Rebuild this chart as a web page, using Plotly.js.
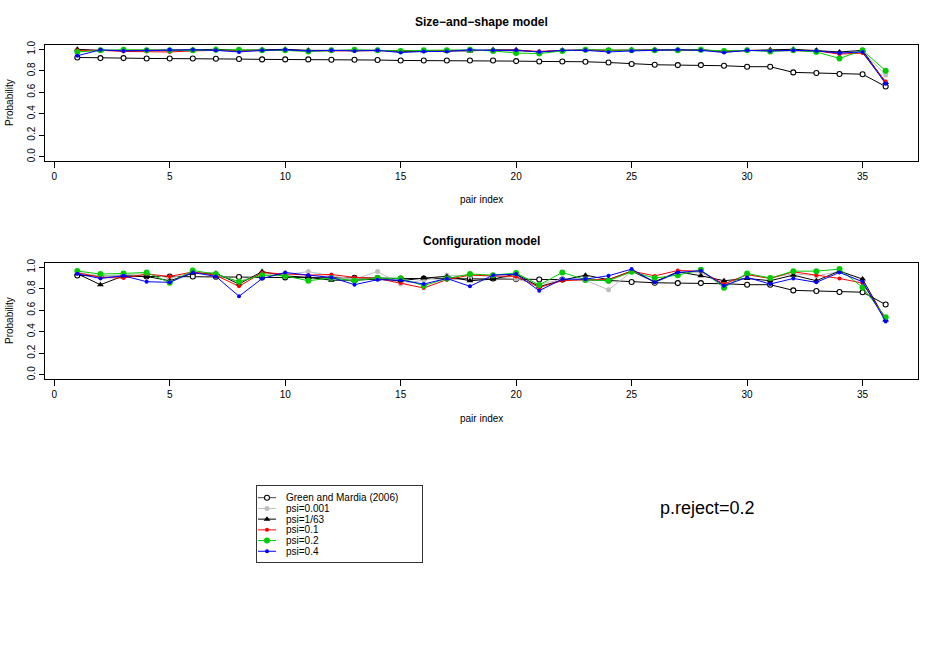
<!DOCTYPE html>
<html>
<head>
<meta charset="utf-8">
<script src="https://cdn.plot.ly/plotly-3.0.1.min.js"></script>
<style>
  body { margin: 0; background: white; }
  #plot { width: 943px; height: 654px; }
</style>
</head>
<body>
<div id="plot"></div>
<script>
// pair index on the x axis
const pairIndex = [1, 2, 3, 4, 5, 6, 7, 8, 9, 10, 11, 12, 13, 14, 15, 16, 17, 18,
  19, 20, 21, 22, 23, 24, 25, 26, 27, 28, 29, 30, 31, 32, 33, 34, 35, 36];

// Green and Mardia (2006), same in both panels
const greenMardia = [0.924, 0.918, 0.918, 0.915, 0.915, 0.915, 0.912, 0.909, 0.906, 0.906, 0.906, 0.903,
  0.903, 0.900, 0.896, 0.896, 0.896, 0.896, 0.896, 0.890, 0.887, 0.887, 0.884, 0.877,
  0.863, 0.856, 0.853, 0.853, 0.847, 0.838, 0.838, 0.785, 0.780, 0.770, 0.768, 0.653];

// size-and-shape model
const ssPsi001 = [0.98, 0.99, 0.99, 0.99, 0.99, 0.99, 0.99, 0.99, 0.99, 0.99, 0.99, 0.99,
  0.99, 0.99, 0.98, 0.99, 0.99, 0.99, 0.99, 0.98, 0.98, 0.99, 0.99, 0.99,
  0.99, 0.99, 0.99, 0.99, 0.98, 0.99, 0.99, 0.99, 0.99, 0.97, 0.98, 0.76];
const ssPsi163 = [1.0, 0.99, 0.99, 0.99, 0.99, 0.995, 1.0, 0.99, 0.995, 1.0, 0.99, 0.99,
  0.99, 0.99, 0.98, 0.985, 0.985, 0.985, 0.995, 0.995, 0.975, 0.99, 0.995, 0.99,
  0.995, 0.995, 0.995, 0.995, 0.98, 0.99, 0.995, 1.0, 0.99, 0.975, 0.99, 0.69];
const ssPsi01 = [0.99, 0.99, 0.98, 0.98, 0.975, 0.985, 0.99, 0.985, 0.99, 0.99, 0.985, 0.985,
  0.985, 0.99, 0.985, 0.985, 0.99, 0.99, 0.99, 0.99, 0.98, 0.99, 0.99, 0.99,
  0.99, 0.985, 0.99, 0.995, 0.98, 0.99, 0.99, 0.99, 0.985, 0.955, 0.965, 0.70];
const ssPsi02 = [0.975, 0.99, 0.995, 0.99, 0.99, 0.99, 0.995, 0.995, 0.99, 0.99, 0.98, 0.99,
  0.995, 0.99, 0.985, 0.99, 0.99, 0.995, 0.985, 0.965, 0.96, 0.985, 0.995, 0.99,
  0.99, 0.99, 0.99, 0.995, 0.985, 0.99, 0.98, 0.99, 0.975, 0.915, 0.99, 0.80];
const ssPsi04 = [0.94, 0.995, 0.985, 0.99, 0.995, 0.995, 0.99, 0.975, 0.99, 0.995, 0.985, 0.99,
  0.985, 0.99, 0.97, 0.98, 0.98, 0.995, 0.99, 0.99, 0.975, 0.99, 0.99, 0.975,
  0.985, 0.99, 0.995, 0.99, 0.97, 0.99, 0.985, 0.99, 0.985, 0.965, 0.975, 0.68];

// configuration model
const cfPsi001 = [0.95, 0.92, 0.93, 0.94, 0.90, 0.95, 0.93, 0.87, 0.94, 0.93, 0.96, 0.92,
  0.89, 0.96, 0.845, 0.88, 0.925, 0.92, 0.92, 0.89, 0.84, 0.89, 0.88, 0.79,
  0.96, 0.86, 0.95, 0.95, 0.84, 0.93, 0.90, 0.94, 0.92, 0.96, 0.86, 0.52];
const cfPsi163 = [0.94, 0.838, 0.92, 0.915, 0.875, 0.945, 0.945, 0.844, 0.96, 0.92, 0.906, 0.88,
  0.88, 0.89, 0.875, 0.90, 0.915, 0.875, 0.89, 0.937, 0.82, 0.88, 0.927, 0.885,
  0.965, 0.866, 0.958, 0.921, 0.875, 0.896, 0.875, 0.927, 0.875, 0.965, 0.89, 0.51];
const cfPsi01 = [0.95, 0.906, 0.90, 0.937, 0.915, 0.957, 0.925, 0.823, 0.95, 0.937, 0.927, 0.933,
  0.906, 0.896, 0.853, 0.807, 0.885, 0.927, 0.92, 0.915, 0.813, 0.875, 0.885, 0.885,
  0.965, 0.92, 0.97, 0.964, 0.844, 0.932, 0.896, 0.958, 0.927, 0.896, 0.853, 0.52];
const cfPsi02 = [0.965, 0.937, 0.943, 0.952, 0.857, 0.97, 0.937, 0.865, 0.927, 0.92, 0.875, 0.90,
  0.875, 0.90, 0.896, 0.829, 0.896, 0.937, 0.927, 0.947, 0.836, 0.952, 0.885, 0.875,
  0.958, 0.90, 0.927, 0.977, 0.81, 0.943, 0.90, 0.964, 0.964, 0.983, 0.813, 0.536];
const cfPsi04 = [0.94, 0.896, 0.921, 0.866, 0.86, 0.952, 0.915, 0.73, 0.895, 0.952, 0.927, 0.906,
  0.838, 0.885, 0.88, 0.844, 0.896, 0.823, 0.927, 0.937, 0.782, 0.89, 0.89, 0.921,
  0.983, 0.86, 0.952, 0.968, 0.829, 0.906, 0.844, 0.896, 0.86, 0.952, 0.866, 0.496];

const seriesNames = ["Green and Mardia (2006)", "psi=0.001", "psi=1/63", "psi=0.1", "psi=0.2", "psi=0.4"];
const seriesColors = ["black", "#bebebe", "black", "red", "#00cd00", "blue"];
const seriesSymbols = ["circle", "circle", "triangle-up", "circle", "circle", "circle"];
const seriesSizes = [5, 5, 6, 4, 6, 4];

const sizeShape = [greenMardia, ssPsi001, ssPsi163, ssPsi01, ssPsi02, ssPsi04];
const configuration = [greenMardia, cfPsi001, cfPsi163, cfPsi01, cfPsi02, cfPsi04];

const W = 943, H = 654;
const font = "Liberation Sans, Arial, sans-serif";
const px = (x) => x / W;
const py = (y) => 1 - y / H;

function markerFor(i) {
  if (i === 0) {
    return { symbol: "circle", size: seriesSizes[i], color: "white", line: { color: "black", width: 1.1 } };
  }
  return { symbol: seriesSymbols[i], size: seriesSizes[i], color: seriesColors[i], line: { width: 0 } };
}

const traces = [];
[sizeShape, configuration].forEach((panel, p) => {
  panel.forEach((vals, i) => {
    traces.push({
      type: "scatter",
      mode: "lines+markers",
      x: pairIndex,
      y: vals,
      xaxis: p === 0 ? "x" : "x2",
      yaxis: p === 0 ? "y" : "y2",
      line: { color: seriesColors[i], width: 1 },
      marker: markerFor(i),
      showlegend: false,
      hoverinfo: "skip",
    });
  });
});

// legend drawn in its own small axes: row k, line from 1 to 19, point at 10
seriesNames.forEach((name, i) => {
  traces.push({
    type: "scatter", mode: "lines", x: [1, 19], y: [i + 1, i + 1],
    xaxis: "x3", yaxis: "y3",
    line: { color: i === 0 ? "#444" : seriesColors[i], width: 1 },
    showlegend: false, hoverinfo: "skip",
  });
  traces.push({
    type: "scatter", mode: "markers", x: [10], y: [i + 1],
    xaxis: "x3", yaxis: "y3",
    marker: markerFor(i),
    showlegend: false, hoverinfo: "skip",
  });
});

const tickFont = { family: font, size: 10, color: "black" };
const xTicks = [0, 5, 10, 15, 20, 25, 30, 35];
const yTicks = [0, 0.2, 0.4, 0.6, 0.8, 1.0];
const yText = ["0.0", "0.2", "0.4", "0.6", "0.8", "1.0"];

function xAxis(anchor) {
  return {
    anchor: anchor, domain: [px(45), px(918)], range: [-0.4, 37.4],
    tickmode: "array", tickvals: xTicks, ticks: "outside", ticklen: 6, tickcolor: "black",
    showline: true, mirror: true, linecolor: "black", linewidth: 1,
    showgrid: false, zeroline: false, tickfont: tickFont,
  };
}
function yAxis(anchor, top, bottom) {
  return {
    anchor: anchor, domain: [py(bottom), py(top)], range: [-0.04, 1.04],
    tickmode: "array", tickvals: yTicks, ticktext: yText, tickangle: -90,
    ticks: "outside", ticklen: 5, tickcolor: "black",
    showline: true, mirror: true, linecolor: "black", linewidth: 1,
    showgrid: false, zeroline: false, tickfont: tickFont,
  };
}

const annotations = [];
function addText(text, x, y, size, opts) {
  annotations.push(Object.assign({
    text: text, xref: "paper", yref: "paper", x: px(x), y: py(y),
    xanchor: "center", yanchor: "middle", showarrow: false,
    font: { family: font, size: size, color: "black" },
  }, opts || {}));
}
addText("<b>Size\u2212and\u2212shape model</b>", 482, 22, 12);
addText("<b>Configuration model</b>", 482, 241, 12);
addText("pair index", 482, 199, 10);
addText("pair index", 482, 418, 10);
addText("Probability", 9, 103, 10, { textangle: -90 });
addText("Probability", 9, 321, 10, { textangle: -90 });
addText("p.reject=0.2", 707, 508, 18);

seriesNames.forEach((name, i) => {
  annotations.push({
    text: name, xref: "x3", yref: "y3", x: 27, y: i + 1,
    xanchor: "left", yanchor: "middle", showarrow: false,
    font: { family: font, size: 10, color: "black" },
  });
});

const layout = {
  width: W, height: H,
  margin: { l: 0, r: 0, t: 0, b: 0 },
  paper_bgcolor: "white", plot_bgcolor: "white",
  showlegend: false,
  xaxis: xAxis("y"),
  yaxis: yAxis("x", 45, 161),
  xaxis2: xAxis("y2"),
  yaxis2: yAxis("x2", 263, 379),
  xaxis3: {
    anchor: "y3", domain: [px(257), px(422)], range: [0, 165],
    showline: true, mirror: true, linecolor: "#333", linewidth: 1,
    showticklabels: false, ticks: "", showgrid: false, zeroline: false,
  },
  yaxis3: {
    anchor: "x3", domain: [py(562), py(486)], range: [7, -0.0909],
    showline: true, mirror: true, linecolor: "#333", linewidth: 1,
    showticklabels: false, ticks: "", showgrid: false, zeroline: false,
  },
  annotations: annotations,
};

Plotly.newPlot("plot", traces, layout, { staticPlot: true });
</script>
</body>
</html>
